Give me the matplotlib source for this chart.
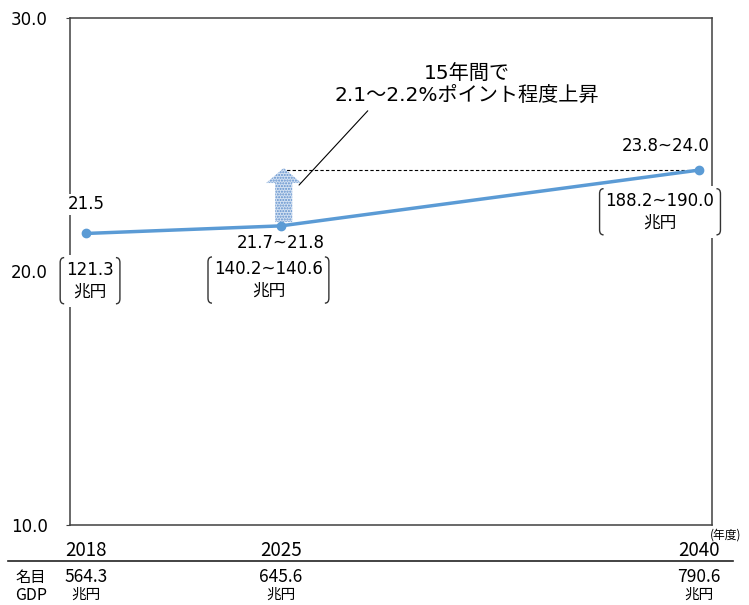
import matplotlib.pyplot as plt
from matplotlib.patches import FancyArrow, PathPatch
from matplotlib.path import Path
from matplotlib.transforms import blended_transform_factory

plt.rcParams['font.family'] = ['DejaVu Sans', 'Noto Sans CJK JP']

# ---- data ----
years = [2018, 2025, 2040]
ratio = [21.5, 21.8, 24.0]            # upper end of each range
point_labels = ["21.5", "21.7~21.8", "23.8~24.0"]
amount_labels = ["121.3\n兆円", "140.2~140.6\n兆円", "188.2~190.0\n兆円"]
gdp_values = ["564.3", "645.6", "790.6"]
arrow_from, arrow_to = 21.95, 24.08
yticks = [10.0, 20.0, 30.0]
note = "15年間で\n2.1～2.2%ポイント程度上昇"

blue = "#5B9BD5"
spine = "#404040"

fig = plt.figure(figsize=(7.49, 6.05), dpi=100)
ax = fig.add_axes([70 / 749, 1 - 525 / 605, 642 / 749, 507 / 605])
ax.set_xlim(2017.43, 2040.47)
ax.set_ylim(10, 30)

for s in ax.spines.values():
    s.set_color(spine)
    s.set_linewidth(1.1)
ax.set_xticks([])
ax.set_yticks(yticks)
ax.set_yticklabels([f"{v:.1f}" for v in yticks], fontsize=12)
ax.tick_params(axis="y", length=3, color=spine, pad=13)

# main line
ax.plot(years, ratio, color=blue, lw=2.5, marker="o", ms=6, zorder=3)

# dashed guide at 2040 level
ax.hlines(ratio[2], years[1], years[2], colors="black", linestyles=(0, (3, 2)),
          lw=0.8, zorder=2)

# up arrow with dotted fill
arr = FancyArrow(years[1] + 0.1, arrow_from, 0, arrow_to - arrow_from,
                 width=0.61, head_width=1.26, head_length=0.59,
                 length_includes_head=True, facecolor="#d3e1f2",
                 edgecolor="#5f8fcc", hatch="......", lw=0, zorder=2)
ax.add_patch(arr)

# note with leader line
ax.annotate(note, xy=(2025.65, 23.41), xytext=(2031.68, 27.38),
            ha="center", va="center", fontsize=14.5, linespacing=1.2,
            arrowprops=dict(arrowstyle="-", color="black", lw=0.8,
                            relpos=(0.145, 0.0), shrinkA=3, shrinkB=0))

# value labels
label_offsets = [(0, 21), (0, -12), (-24, 17)]
bbox = dict(boxstyle="square,pad=0.1", fc="white", ec="none")
for x, y, t, off in zip(years, ratio, point_labels, label_offsets):
    ax.annotate(t, (x, y), xytext=off, textcoords="offset points",
                ha="center", va="center", fontsize=12, bbox=bbox, zorder=4)

# bracketed amounts
amount_offsets = [(3, -34), (-9, -39), (-28, -30)]
amount_texts = []
for x, y, t, off in zip(years, ratio, amount_labels, amount_offsets):
    tx = ax.annotate(t, (x, y), xytext=off, textcoords="offset points",
                     ha="center", va="center", fontsize=12, linespacing=1.3,
                     bbox=dict(boxstyle="square,pad=0.35", fc="white", ec="none"),
                     zorder=4, annotation_clip=False)
    amount_texts.append(tx)

fig.canvas.draw()
renderer = fig.canvas.get_renderer()


def bracket(bb):
    # round-cornered brackets around a text box (display coords)
    x0, x1 = bb.x0 - 6, bb.x1 + 6
    y0, y1 = bb.y0 - 3, bb.y1 + 3
    h, r = 4, 5
    for xs, sign in ((x0, 1), (x1, -1)):
        verts = [(xs + sign * h, y1), (xs, y1), (xs, y1 - r),
                 (xs, y0 + r), (xs, y0), (xs + sign * h, y0)]
        codes = [Path.MOVETO, Path.CURVE3, Path.CURVE3,
                 Path.LINETO, Path.CURVE3, Path.CURVE3]
        verts = fig.transFigure.inverted().transform(verts)
        fig.add_artist(PathPatch(Path(verts, codes), fill=False, ec="#333333",
                                 lw=1.0, transform=fig.transFigure, zorder=5))


for tx in amount_texts:
    bracket(tx.get_window_extent(renderer))

# table under the chart
tr = blended_transform_factory(ax.transData, fig.transFigure)
cjk = ['Noto Sans CJK JP', 'DejaVu Sans']
for x, g in zip(years, gdp_values):
    fig.text(x, 1 - 550 / 605, str(x), transform=tr, ha="center", va="center",
             fontsize=13.5, family=cjk)
    fig.text(x, 1 - 577 / 605, g, transform=tr, ha="center", va="center",
             fontsize=12.5, family=cjk)
    fig.text(x, 1 - 595 / 605, "兆円", transform=tr, ha="center", va="center",
             fontsize=10.5, family=cjk)
fig.text(31 / 749, 1 - 577 / 605, "名目", ha="center", va="center",
         fontsize=11, family=cjk)
fig.text(31 / 749, 1 - 595 / 605, "GDP", ha="center", va="center",
         fontsize=11.5, family=cjk)
fig.text(741 / 749, 1 - 535 / 605, "(年度)", ha="right", va="center",
         fontsize=8.5, family=cjk)
fig.add_artist(plt.Line2D([8 / 749, 733 / 749], [1 - 561 / 605] * 2,
                          color="#222222", lw=1.2, transform=fig.transFigure))

fig.savefig("out.png", dpi=100)
